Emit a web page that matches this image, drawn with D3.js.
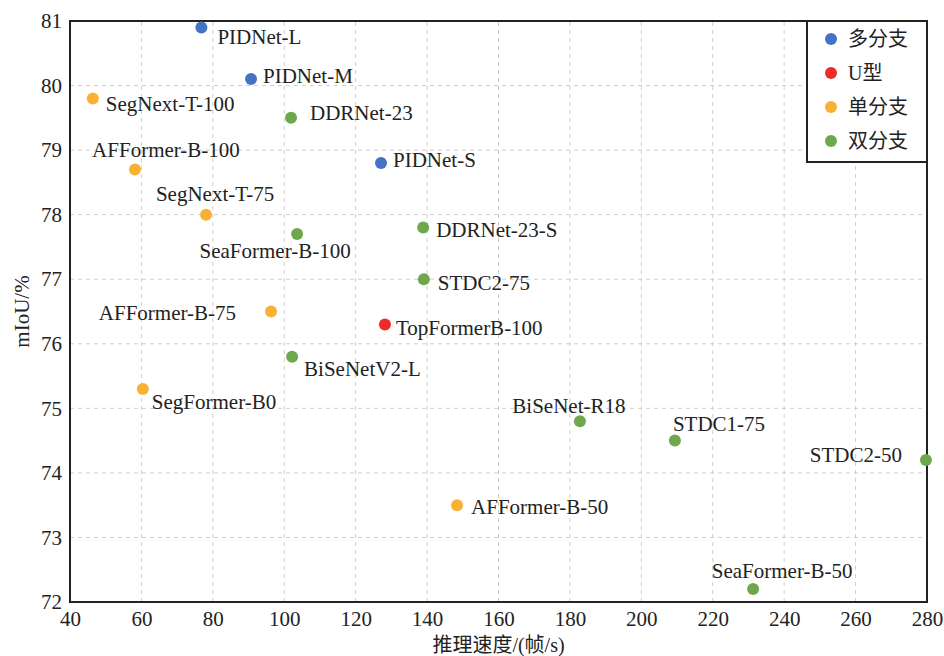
<!DOCTYPE html>
<html>
<head>
<meta charset="utf-8">
<script src="https://cdn.jsdelivr.net/npm/d3@7"></script>
<style>
  body { margin: 0; background: #fff; }
  text { font-family: "Liberation Serif", "Times New Roman", "Noto Sans CJK SC", serif; fill: #222; }
</style>
</head>
<body>
<div id="chart"></div>
<script>
const models = [
  "PIDNet-L", "PIDNet-M", "SegNext-T-100", "DDRNet-23", "AFFormer-B-100",
  "PIDNet-S", "SegNext-T-75", "SeaFormer-B-100", "DDRNet-23-S", "STDC2-75",
  "AFFormer-B-75", "TopFormerB-100", "BiSeNetV2-L", "SegFormer-B0",
  "BiSeNet-R18", "STDC1-75", "STDC2-50", "AFFormer-B-50", "SeaFormer-B-50",
];
const fps = [
  76.8, 90.7, 46.4, 101.9, 58.2,
  127.1, 78.1, 103.6, 138.9, 139.1,
  96.3, 128.2, 102.2, 60.4,
  182.8, 209.4, 279.7, 148.4, 231.3,
];
const miou = [
  80.9, 80.1, 79.8, 79.5, 78.7,
  78.8, 78.0, 77.7, 77.8, 77.0,
  76.5, 76.3, 75.8, 75.3,
  74.8, 74.5, 74.2, 73.5, 72.2,
];
const types = [
  "多分支", "多分支", "单分支", "双分支", "单分支",
  "多分支", "单分支", "双分支", "双分支", "双分支",
  "单分支", "U型", "双分支", "单分支",
  "双分支", "双分支", "双分支", "单分支", "双分支",
];
const legendTypes = ["多分支", "U型", "单分支", "双分支"];
const xTicks = [40, 60, 80, 100, 120, 140, 160, 180, 200, 220, 240, 260, 280];
const yTicks = [72, 73, 74, 75, 76, 77, 78, 79, 80, 81];

// label placement relative to each point: [anchor, dx, dy]
const labelPlace = {
  "PIDNet-L": ["start", 16, 9],
  "PIDNet-M": ["start", 12, -3],
  "SegNext-T-100": ["start", 13, 5],
  "DDRNet-23": ["start", 19, -5],
  "AFFormer-B-100": ["middle", 31, -20],
  "PIDNet-S": ["start", 12, -3],
  "SegNext-T-75": ["middle", 9, -21],
  "SeaFormer-B-100": ["middle", -22, 17],
  "DDRNet-23-S": ["start", 13, 2],
  "STDC2-75": ["start", 14, 3],
  "AFFormer-B-75": ["end", -35, 1],
  "TopFormerB-100": ["start", 11, 3],
  "BiSeNetV2-L": ["start", 12, 12],
  "SegFormer-B0": ["start", 9, 13],
  "BiSeNet-R18": ["middle", -11, -16],
  "STDC1-75": ["start", -2, -17],
  "STDC2-50": ["end", -24, -5],
  "AFFormer-B-50": ["start", 14, 1],
  "SeaFormer-B-50": ["middle", 29, -18],
};

const width = 944;
const height = 656;
const margin = { top: 21, right: 17, bottom: 54, left: 70 };
const fontSize = "21px";

const color = d3
  .scaleOrdinal()
  .domain(legendTypes)
  .range(["#4472c4", "#ee2a2a", "#f8b133", "#6fa84c"]);

const xScale = d3
  .scaleLinear()
  .domain([40, 280])
  .range([margin.left, width - margin.right]);

const yScale = d3
  .scaleLinear()
  .domain([72, 81])
  .range([height - margin.bottom, margin.top]);

const svg = d3
  .select("#chart")
  .append("svg")
  .attr("width", width)
  .attr("height", height);

// grid
svg
  .append("g")
  .selectAll("line")
  .data(xTicks.slice(1, -1))
  .join("line")
  .attr("x1", (d) => xScale(d))
  .attr("x2", (d) => xScale(d))
  .attr("y1", yScale(72))
  .attr("y2", yScale(81))
  .attr("stroke", "#cfcfcf")
  .attr("stroke-dasharray", "4,4");

svg
  .append("g")
  .selectAll("line")
  .data(yTicks.slice(1, -1))
  .join("line")
  .attr("x1", xScale(40))
  .attr("x2", xScale(280))
  .attr("y1", (d) => yScale(d))
  .attr("y2", (d) => yScale(d))
  .attr("stroke", "#cfcfcf")
  .attr("stroke-dasharray", "4,4");

// axes
const xAxis = svg
  .append("g")
  .attr("transform", `translate(0, ${height - margin.bottom})`)
  .call(d3.axisBottom(xScale).tickValues(xTicks).tickSize(0).tickPadding(9));

const yAxis = svg
  .append("g")
  .attr("transform", `translate(${margin.left}, 0)`)
  .call(d3.axisLeft(yScale).tickValues(yTicks).tickSize(0).tickPadding(8));

[xAxis, yAxis].forEach((ax) => {
  ax.select(".domain").remove();
  ax.selectAll("text")
    .style("font-size", fontSize)
    .style("font-family", "'Liberation Serif', serif")
    .attr("fill", "#222");
});

// frame
svg
  .append("rect")
  .attr("x", xScale(40))
  .attr("y", yScale(81))
  .attr("width", xScale(280) - xScale(40))
  .attr("height", yScale(72) - yScale(81))
  .attr("fill", "none")
  .attr("stroke", "#222")
  .attr("stroke-width", 2);

// axis titles
svg
  .append("text")
  .attr("x", (xScale(40) + xScale(280)) / 2)
  .attr("y", height - 4)
  .attr("text-anchor", "middle")
  .style("font-size", "20px")
  .text("推理速度/(帧/s)");

svg
  .append("text")
  .attr("transform", "rotate(-90)")
  .attr("x", -(yScale(72) + yScale(81)) / 2)
  .attr("y", 29)
  .attr("text-anchor", "middle")
  .style("font-size", fontSize)
  .text("mIoU/%");

// points
const points = models.map((name, i) => ({
  name,
  x: fps[i],
  y: miou[i],
  type: types[i],
}));

svg
  .append("g")
  .selectAll("circle")
  .data(points)
  .join("circle")
  .attr("cx", (d) => xScale(d.x))
  .attr("cy", (d) => yScale(d.y))
  .attr("r", 6)
  .attr("fill", (d) => color(d.type));

svg
  .append("g")
  .selectAll("text")
  .data(points)
  .join("text")
  .attr("x", (d) => xScale(d.x) + labelPlace[d.name][1])
  .attr("y", (d) => yScale(d.y) + labelPlace[d.name][2])
  .attr("text-anchor", (d) => labelPlace[d.name][0])
  .attr("dy", "0.35em")
  .style("font-size", fontSize)
  .text((d) => d.name);

// legend
const legendX = 807;
const legend = svg.append("g");

legend
  .append("rect")
  .attr("x", legendX)
  .attr("y", yScale(81))
  .attr("width", xScale(280) - legendX)
  .attr("height", 141)
  .attr("fill", "#fff")
  .attr("stroke", "#222")
  .attr("stroke-width", 2);

const legendItem = legend
  .selectAll(".legend-item")
  .data(legendTypes)
  .join("g")
  .attr("class", "legend-item")
  .attr("transform", (d, i) => `translate(${legendX + 24}, ${39 + i * 34})`);

legendItem
  .append("circle")
  .attr("r", 6)
  .attr("fill", (d) => color(d));

legendItem
  .append("text")
  .attr("x", 17)
  .attr("dy", "0.35em")
  .style("font-size", "20px")
  .text((d) => d);
</script>
</body>
</html>
